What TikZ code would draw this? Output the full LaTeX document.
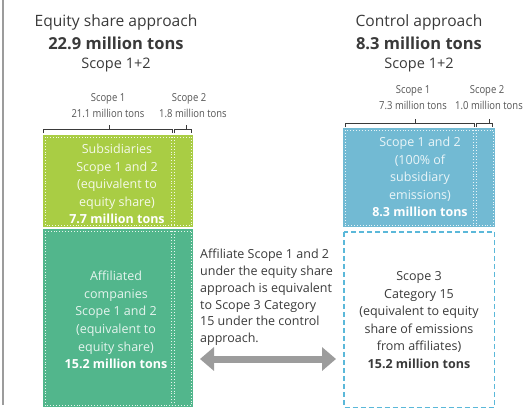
\documentclass[tikz,border=0pt]{standalone}
\usepackage{fontspec}
\setmainfont{Open Sans}
\newfontfamily\condfont[FakeStretch=0.86]{Open Sans}
\usetikzlibrary{arrows.meta}
\definecolor{lgreen}{HTML}{A9CD44}
\definecolor{dgreen}{HTML}{52B68C}
\definecolor{sblue}{HTML}{72BAD3}
\definecolor{dblue}{HTML}{5BB8D9}
\definecolor{txt}{HTML}{3A3A3A}
\definecolor{lbl}{HTML}{555555}
\definecolor{agray}{HTML}{9C9C9C}
\tikzset{
  boxtext/.style={align=center, inner sep=0pt, font=\fontsize{12.5}{17.6}\selectfont},
  filledbox/.style={draw=none, anchor=north west, inner sep=0pt},
  innerdot/.style={draw=white, dotted, line width=0.9pt, opacity=0.85},
  bracket/.style={draw=txt, line width=0.8pt},
  title/.style={anchor=base, inner sep=0pt, text=txt, font=\fontsize{15.6}{18}\selectfont},
  bigtitle/.style={anchor=base, inner sep=0pt, text=txt, font=\fontsize{16.5}{19}\selectfont\bfseries},
  subtitle/.style={anchor=base, inner sep=0pt, text=txt, font=\fontsize{14.5}{17}\selectfont},
  scopelbl/.style={anchor=base, inner sep=0pt, text=lbl, font=\condfont\fontsize{11}{13}\selectfont},
  dblarrow/.style={draw=agray, line width=7pt, {Triangle[length=14pt,width=23pt]}-{Triangle[length=14pt,width=23pt]}},
}
\begin{document}
\begin{tikzpicture}[x=1pt,y=-1pt]
\useasboundingbox (0,0) rectangle (530,412);
% left rule
\draw[agray, line width=1.5pt] (3,0) -- (3,405);

% titles
\node[title] (t1) at (116,27) {Equity share approach};
\node[bigtitle] (t1b) at (116,49) {22.9 million tons};
\node[subtitle] (t1c) at (116,68) {Scope 1+2};
\node[title] (t2) at (419,27) {Control approach};
\node[bigtitle] (t2b) at (419,49) {8.3 million tons};
\node[subtitle] (t2c) at (419,68) {Scope 1+2};

% scope labels
\node[scopelbl] (l1a) at (108,101) {Scope 1};
\node[scopelbl] (l1b) at (108,117) {21.1 million tons};
\node[scopelbl] (l2a) at (189,101) {Scope 2};
\node[scopelbl] (l2b) at (193,117) {1.8 million tons};
\node[scopelbl] (r1a) at (413,93) {Scope 1};
\node[scopelbl] (r1b) at (413,110) {7.3 million tons};
\node[scopelbl] (r2a) at (487,93) {Scope 2};
\node[scopelbl] (r2b) at (489,110) {1.0 million tons};

% brackets
\draw[bracket] (43,133) -- (43,129) -- (172,129) -- (172,133);
\draw[bracket] (109,129) -- (109,125);
\draw[bracket] (174,133) -- (174,129) -- (191,129) -- (191,133);
\draw[bracket] (186,129) -- (186,125);
\draw[bracket] (345,127) -- (345,123) -- (474,123) -- (474,127);
\draw[bracket] (415,123) -- (415,119);
\draw[bracket] (476,127) -- (476,123) -- (492,123) -- (492,127);
\draw[bracket] (489,123) -- (489,119);

% boxes
\node[filledbox, fill=lgreen, minimum width=150pt, minimum height=92pt] (subs) at (43,135) {};
\node[filledbox, fill=dgreen, minimum width=150pt, minimum height=178pt] (affl) at (43,229) {};
\node[filledbox, fill=sblue, minimum width=152pt, minimum height=99pt] (ctrl) at (343,128) {};
\node[filledbox, minimum width=150pt, minimum height=175pt] (cat) at (344,232) {};
\draw[dblue, line width=1.3pt, dash pattern=on 5pt off 3pt] (cat.north west) rectangle (cat.south east);

% inner dotted lines
\draw[innerdot] ([shift={(2,2)}]subs.north west) rectangle ([shift={(-2,-2)}]subs.south east);
\draw[innerdot] ([shift={(2,2)}]affl.north west) rectangle ([shift={(-2,-2)}]affl.south east);
\draw[innerdot] ([shift={(2,2)}]ctrl.north west) rectangle ([shift={(-2,-2)}]ctrl.south east);
\draw[innerdot] (171.5,137) -- (171.5,225) (174.5,137) -- (174.5,225);
\draw[innerdot] (171.5,231) -- (171.5,405) (174.5,231) -- (174.5,405);
\draw[innerdot] (473.5,130) -- (473.5,225) (476.5,130) -- (476.5,225);

% box texts
\node[boxtext, text=white!88!lgreen] (subst) at (117,184) {Subsidiaries\\Scope 1 and 2\\(equivalent to\\equity share)\\\textcolor{white}{\bfseries 7.7 million tons}};
\node[boxtext, text=white!85!dgreen] (afflt) at (116,320) {Affiliated\\companies\\Scope 1 and 2\\(equivalent to\\equity share)\\\textcolor{white}{\bfseries 15.2 million tons}};
\node[boxtext, text=white!85!sblue] (ctrlt) at (420,177) {Scope 1 and 2\\(100\% of\\subsidiary\\emissions)\\\textcolor{white}{\bfseries 8.3 million tons}};
\node[boxtext, text=txt] (catt) at (419,320) {Scope 3\\Category 15\\(equivalent to equity\\share of emissions\\from affiliates)\\{\bfseries 15.2 million tons}};

% middle note
\node[anchor=north west, inner sep=0pt, align=left, text=txt, font=\fontsize{12.5}{16.8}\selectfont] (note) at (200,249) {Affiliate Scope 1 and 2\\under the equity share\\approach is equivalent\\to Scope 3 Category\\15 under the control\\approach.};

% arrow
\coordinate (aL) at (200,359);
\coordinate (aR) at (336,359);
\draw[dblarrow] (aL) -- (aR);
\end{tikzpicture}
\end{document}
